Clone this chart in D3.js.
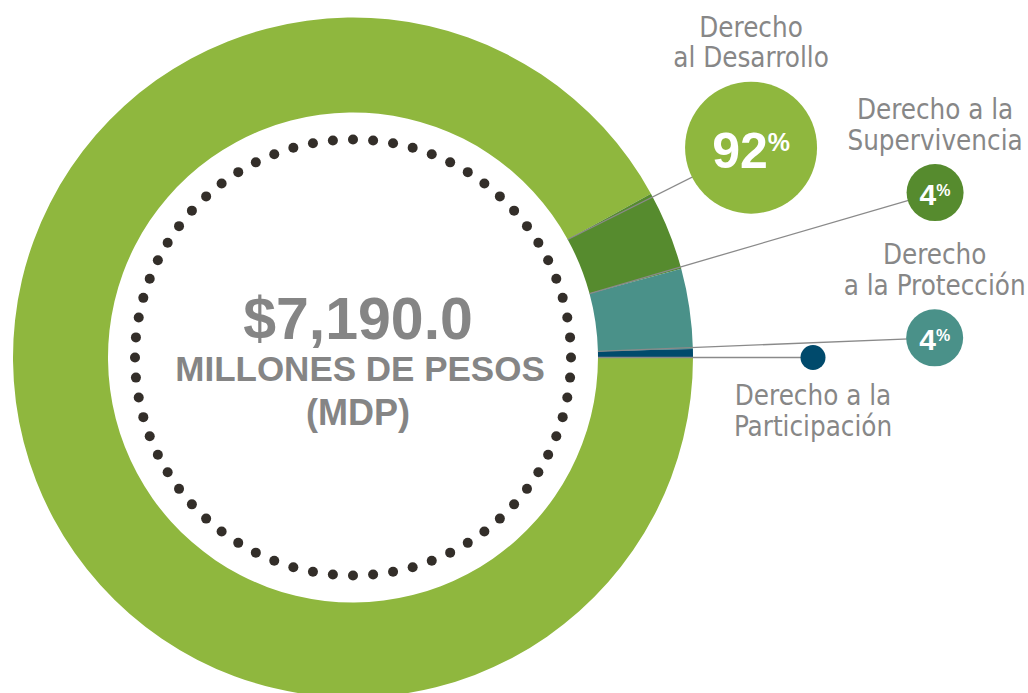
<!DOCTYPE html>
<html>
<head>
<meta charset="utf-8">
<script src="https://cdn.jsdelivr.net/npm/d3@7"></script>
<style>
  html, body { margin: 0; padding: 0; background: #fff; }
  svg { display: block; }
  .label { font-family: 'Liberation Sans Narrow', 'DejaVu Sans Condensed', sans-serif; fill: #878787; font-size: 27.5px; }
  .center { font-family: 'Liberation Sans', Arial, sans-serif; font-weight: bold; fill: #858585; }
  .pct { font-family: 'Liberation Sans', Arial, sans-serif; font-weight: bold; fill: #fff; }
</style>
</head>
<body>
<div id="chart"></div>
<script>
const WIDTH = 1028
const HEIGHT = 693

// data
const categories = ['Desarrollo', 'Supervivencia', 'Protección', 'Participación']
const values = [92.0, 3.8, 3.8, 0.4]
const pctLabels = ['92', '4', '4', '']
const nameLines = [
  ['Derecho', 'al Desarrollo'],
  ['Derecho a la', 'Supervivencia'],
  ['Derecho', 'a la Protección'],
  ['Derecho a la', 'Participación']
]
const totalLabel = ['$7,190.0', 'MILLONES DE PESOS', '(MDP)']

// layout / styles
const colors = ['#8fb73e', '#568b2e', '#4a9189', '#004a6c']
const callouts = [
  { dist: 450, tilt: -1.0, r: 66, num: 50, sup: 25, supDy: -17, below: false },
  { dist: 605, tilt: 0.7, r: 28.5, num: 30, sup: 16, supDy: -9, below: false },
  { dist: 582, tilt: 0.5, r: 28.5, num: 30, sup: 16, supDy: -9, below: false },
  { dist: 460, tilt: 0, r: 12.5, num: 0, sup: 0, supDy: 0, below: true }
]
const CX = 353
const CY = 357.5
const INNER = 245
const OUTER = 340

const svg = d3.select('#chart')
  .append('svg')
  .attr('width', WIDTH)
  .attr('height', HEIGHT)

const g = svg.append('g')
  .attr('transform', `translate(${CX}, ${CY})`)

const pie = d3.pie()
  .sort(null)
  .startAngle(Math.PI / 2)
  .endAngle(Math.PI / 2 + Math.PI * 2)
  .value(d => d)

const arc = d3.arc()
  .innerRadius(INNER)
  .outerRadius(OUTER)

const arcs = pie(values)

g.selectAll('.slice')
  .data(arcs)
  .enter()
  .append('path')
  .attr('class', 'slice')
  .attr('d', arc)
  .attr('fill', (d, i) => colors[i])

// dotted inner ring
const DOTS = 68
g.selectAll('.dot')
  .data(d3.range(DOTS))
  .enter()
  .append('circle')
  .attr('class', 'dot')
  .attr('cx', i => 218 * Math.sin(i / DOTS * Math.PI * 2))
  .attr('cy', i => -218 * Math.cos(i / DOTS * Math.PI * 2))
  .attr('r', 5)
  .attr('fill', '#332e29')

// callouts
function polar(r, a) {
  return [r * Math.sin(a), -r * Math.cos(a)]
}

arcs.forEach((d, i) => {
  const c = callouts[i]
  const a = d.endAngle
  const start = polar(INNER, a)
  const pos = polar(c.dist, a - c.tilt * Math.PI / 180)

  g.append('line')
    .attr('x1', start[0])
    .attr('y1', start[1])
    .attr('x2', pos[0])
    .attr('y2', pos[1])
    .attr('stroke', '#8a8a8a')
    .attr('stroke-width', 1.3)

  g.append('circle')
    .attr('cx', pos[0])
    .attr('cy', pos[1])
    .attr('r', c.r)
    .attr('fill', colors[i])

  if (pctLabels[i]) {
    const t = g.append('text')
      .attr('class', 'pct')
      .attr('x', pos[0])
      .attr('y', pos[1] + c.num * 0.4)
      .attr('text-anchor', 'middle')
    t.append('tspan')
      .attr('font-size', c.num)
      .text(pctLabels[i])
    t.append('tspan')
      .attr('font-size', c.sup)
      .attr('dy', c.supDy)
      .text('%')
  }

  const lines = nameLines[i]
  const y0 = c.below
    ? pos[1] + c.r + 35
    : pos[1] - c.r - 14 - 31 * (lines.length - 1)
  g.append('text')
    .attr('class', 'label')
    .attr('text-anchor', 'middle')
    .selectAll('tspan')
    .data(lines)
    .enter()
    .append('tspan')
    .attr('x', pos[0])
    .attr('y', (l, j) => y0 + j * 30.5)
    .text(l => l)
})

// total in the middle
const center = g.append('text')
  .attr('class', 'center')
  .attr('text-anchor', 'middle')
center.append('tspan')
  .attr('x', 5)
  .attr('y', -18.5)
  .attr('font-size', 59)
  .text(totalLabel[0])
center.append('tspan')
  .attr('x', 7)
  .attr('y', 23.5)
  .attr('font-size', 35)
  .text(totalLabel[1])
center.append('tspan')
  .attr('x', 5)
  .attr('y', 67)
  .attr('font-size', 36)
  .text(totalLabel[2])
</script>
</body>
</html>
